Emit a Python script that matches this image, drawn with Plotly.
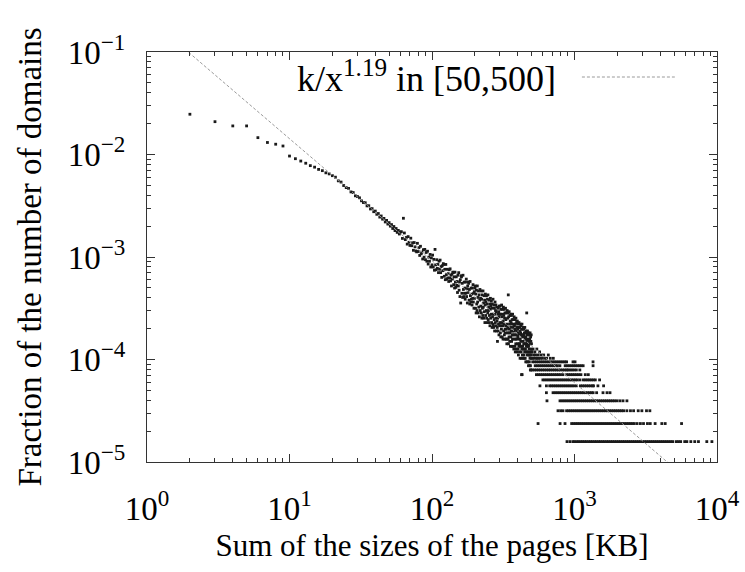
import plotly.graph_objects as go

# ---------------- data ----------------
N_DOMAINS = 126500  # total number of domains (fraction = count / total)

# small sizes: one point per KB value
head_kb = [2, 3, 4, 5, 6, 7, 8, 9, 10, 11, 12, 13, 14, 15, 16, 17, 18, 19, 20]
head_count = [3125, 2644, 2404, 2404, 1847, 1657, 1594, 1531, 1222, 1151,
              1092, 1040, 985, 952, 905, 880, 838, 818, 786]

# band of points that follows the power law, one per KB value from 21 KB
band_count = [
    760, 700, 681, 630, 601, 590, 546, 538, 500, 492,
    478, 447, 430, 428, 399, 400, 372, 375, 350, 355,
    330, 336, 310, 318, 296, 301, 278, 288, 265, 274,
    253, 262, 240, 251, 229, 240, 220, 230, 212, 222,
    223, 192, 302, 217, 187, 196, 169, 200, 176, 164,
    193, 163, 174, 147, 175, 159, 145, 142, 172, 143,
    156, 131, 161, 136, 141, 121, 149, 126, 150, 119,
    140, 115, 144, 108, 126, 115, 134, 101, 124, 106,
    132, 101, 120, 94, 150, 106, 95, 119, 98, 107,
    89, 115, 96, 118, 89, 102, 80, 104, 93, 109,
    107, 82, 96, 76, 107, 85, 77, 96, 79, 87,
    73, 95, 79, 97, 74, 84, 66, 86, 77, 90,
    89, 68, 81, 63, 90, 72, 64, 81, 67, 73,
    57, 84, 66, 89, 60, 72, 52, 76, 45, 83,
    81, 56, 70, 51, 84, 61, 52, 72, 56, 63,
    49, 72, 56, 77, 52, 62, 45, 66, 57, 72,
    70, 48, 61, 44, 73, 53, 46, 63, 49, 55,
    43, 63, 50, 68, 46, 56, 40, 58, 50, 63,
    66, 40, 55, 36, 60, 44, 38, 66, 46, 51,
    36, 59, 41, 54, 33, 48, 61, 38, 50, 42,
    59, 36, 49, 32, 54, 40, 34, 59, 41, 45,
    32, 53, 37, 48, 29, 43, 55, 34, 46, 38,
    53, 32, 44, 29, 49, 36, 54, 31, 38, 41,
    29, 48, 34, 44, 27, 39, 50, 32, 42, 35,
    47, 29, 40, 26, 44, 33, 28, 49, 35, 27,
    26, 43, 31, 40, 24, 35, 46, 29, 38, 32,
    43, 27, 37, 24, 41, 30, 26, 19, 32, 35,
    24, 40, 28, 37, 22, 33, 42, 27, 35, 29,
    42, 23, 35, 21, 39, 27, 25, 43, 29, 33,
    21, 39, 27, 35, 20, 30, 41, 24, 34, 28,
    39, 22, 32, 20, 36, 25, 23, 40, 27, 31,
    20, 36, 25, 20, 18, 28, 38, 23, 32, 26,
    36, 20, 54, 18, 33, 23, 21, 37, 25, 28,
    19, 34, 23, 30, 17, 26, 35, 21, 29, 24,
    34, 19, 28, 17, 31, 22, 20, 35, 24, 26,
    17, 31, 22, 28, 16, 24, 33, 20, 27, 22,
    31, 17, 25, 15, 28, 20, 18, 32, 22, 24,
    16, 29, 20, 26, 15, 22, 30, 18, 25, 21,
    28, 16, 23, 14, 26, 18, 17, 29, 20, 22,
    15, 26, 18, 24, 13, 20, 28, 17, 23, 19,
    27, 15, 22, 13, 25, 17, 16, 28, 9, 21,
    14, 25, 17, 22, 13, 19, 26, 16, 22, 18,
    25, 14, 21, 13, 23, 16, 15, 26, 18, 20,
    13, 23, 16, 21, 12, 18, 24, 15, 20, 17,
    23, 36, 19, 12, 22, 15, 14, 24, 17, 18,
    12, 22, 15, 20, 11, 17, 23, 14, 19, 16,
    22, 12, 18, 11, 20, 14, 13, 23, 15, 10,
    11, 21, 14, 19, 10, 16, 22, 13, 18, 15,
]
band_start_kb = 21

# scattered points just above the discrete levels (500-700 KB)
upper_kb = [503, 507, 512, 516, 521, 527, 533, 538, 544, 549, 556,
            562, 569, 577, 584, 596, 608, 622, 637, 655, 676, 710]
upper_count = [15, 13, 16, 14, 13, 15, 14, 13, 16, 13, 14,
               13, 15, 13, 14, 13, 14, 13, 13, 14, 13, 13]

# tail: discrete levels (number of domains) and the sizes found on each
level_count = [2, 3, 4, 5, 6, 7, 8, 9, 10, 11, 12]
level_kb = [
    [886, 930, 976, 1003, 1041, 1071, 1108, 1140, 1178, 1214, 1256, 1297, 1338,
     1384, 1427, 1476, 1520, 1572, 1623, 1679, 1733, 1792, 1850, 1911, 1974,
     2039, 2105, 2176, 2245, 2321, 2396, 2474, 2557, 2641, 2728, 2818, 2911,
     3007, 3106, 3209, 3315, 3424, 3537, 3653, 3774, 3898, 4027, 4160, 4297,
     4439, 4586, 4740, 4894, 5180, 5366, 5560, 5935, 6143, 6550, 6980, 7410,
     8480, 9210],
    [555, 792, 858, 955, 988, 1022, 1054, 1090, 1126, 1163, 1203, 1242, 1284,
     1327, 1371, 1416, 1463, 1512, 1561, 1613, 1667, 1722, 1779, 1837, 1898,
     1961, 2026, 2093, 2161, 2233, 2307, 2383, 2461, 2542, 2626, 2750, 2900,
     3050, 3250, 3400, 3680, 4100, 4330, 5640],
    [766, 800, 830, 880, 910, 941, 972, 1005, 1039, 1073, 1109, 1146, 1185,
     1224, 1265, 1307, 1351, 1396, 1443, 1491, 1541, 1592, 1646, 1700, 1757,
     1816, 1877, 1939, 2004, 2071, 2140, 2210, 2330, 2470, 2600, 2800, 2970,
     3200, 3380],
    [641, 791, 818, 845, 873, 902, 932, 963, 995, 1028, 1062, 1098, 1134, 1172,
     1211, 1251, 1293, 1336, 1380, 1426, 1474, 1523, 1573, 1626, 1680, 1736,
     1793, 1853, 1915, 1987, 2084, 2190, 2333],
    [635, 707, 731, 755, 780, 806, 833, 860, 889, 919, 949, 981, 1013, 1047,
     1082, 1118, 1155, 1193, 1233, 1274, 1316, 1351, 1430, 1585, 1691, 1775],
    [572, 635, 670, 692, 715, 739, 763, 789, 815, 842, 870, 899, 929, 960, 992,
     1030, 1100, 1137, 1175, 1214, 1254, 1296, 1339, 1360, 1460, 1600],
    [600, 620, 641, 662, 684, 707, 730, 755, 780, 806, 832, 860, 889, 918, 949,
     980, 1013, 1046, 1090, 1150, 1188, 1228, 1268, 1310, 1354, 1400, 1500],
    [425, 540, 558, 576, 595, 615, 635, 656, 678, 700, 724, 748, 772, 798, 830,
     880, 909, 939, 970, 1002, 1035, 1070, 1110, 1190, 1250],
    [506, 523, 540, 558, 576, 595, 615, 636, 657, 678, 701, 724, 748, 773, 798,
     825, 852, 880, 900, 930, 961, 993, 1030, 1090],
    [530, 548, 566, 585, 604, 624, 645, 666, 688, 711, 735, 759, 790, 860, 888,
     918, 948, 980, 1012, 1046, 1080, 1115, 1150, 1350],
    [509, 526, 543, 561, 580, 599, 619, 639, 660, 682, 705, 728, 752, 777, 803,
     829, 856, 880, 976, 1009, 1349],
]

# fitted power law k/x^1.19 (straight line on log-log axes)
fit_kb = [1, 10000]
fit_frac = [0.221, 3.84e-6]

x_tick_vals = [1, 10, 100, 1000, 10000]
x_tick_text = ["10<sup>0</sup>", "10<sup>1</sup>", "10<sup>2</sup>",
               "10<sup>3</sup>", "10<sup>4</sup>"]
y_tick_vals = [1e-5, 1e-4, 1e-3, 1e-2, 1e-1]
y_tick_text = ["10<sup>\u22125</sup>", "10<sup>\u22124</sup>", "10<sup>\u22123</sup>",
               "10<sup>\u22122</sup>", "10<sup>\u22121</sup>"]

# ---------------- assemble points ----------------
band_kb = [band_start_kb + i for i in range(len(band_count))]
all_kb = head_kb + band_kb + upper_kb
all_count = head_count + band_count + upper_count
for c, kbs in zip(level_count, level_kb):
    all_kb += kbs
    all_count += [c] * len(kbs)
all_frac = [c / N_DOMAINS for c in all_count]

FONT = "Liberation Serif"
GRAY = "#9a9a9a"

fig = go.Figure()
fig.add_trace(go.Scatter(
    x=all_kb, y=all_frac, mode="markers",
    marker=dict(size=2.8, color="#1a1a1a", symbol="square", line=dict(width=0)),
    showlegend=False, hoverinfo="skip"))
fig.add_trace(go.Scatter(
    x=fit_kb, y=fit_frac, mode="lines",
    line=dict(color=GRAY, width=1, dash="3px,2px"),
    showlegend=False, hoverinfo="skip"))


def minor_vals(lo, hi):
    vals = []
    for e in range(lo, hi):
        for m in range(2, 10):
            vals.append(m * 10 ** e)
    return vals


axis_style = dict(
    type="log", showline=True, linecolor="#333", linewidth=1, mirror="allticks",
    ticks="inside", ticklen=8, tickwidth=1, tickcolor="#333",
    showgrid=False, zeroline=False,
    tickfont=dict(family=FONT, size=33, color="black"),
)

fig.update_xaxes(
    **axis_style, range=[0, 4], tickmode="array",
    tickvals=x_tick_vals, ticktext=x_tick_text, ticklabelstandoff=17,
    minor=dict(ticks="inside", ticklen=4, tickwidth=1, tickcolor="#333",
               tickmode="array", tickvals=minor_vals(0, 4)),
    title=dict(text="Sum of the sizes of the pages [KB]",
               font=dict(family=FONT, size=31, color="black"), standoff=8),
)
fig.update_yaxes(
    **axis_style, range=[-5, -1], tickmode="array",
    tickvals=y_tick_vals, ticktext=y_tick_text, ticklabelstandoff=14,
    minor=dict(ticks="inside", ticklen=4, tickwidth=1, tickcolor="#333",
               tickmode="array", tickvals=minor_vals(-5, -1)),
    title=dict(text="Fraction of the number of domains",
               font=dict(family=FONT, size=33, color="black"), standoff=16),
)

# key (text + sample line), placed like the original key
fig.add_annotation(
    xref="paper", yref="paper", x=0.721, y=0.941, xanchor="right", yanchor="middle",
    text="k/x<sup>1.19</sup> in [50,500]", showarrow=False,
    font=dict(family=FONT, size=36, color="black"))
fig.add_shape(type="line", xref="paper", yref="paper",
              x0=0.763, x1=0.926, y0=0.939, y1=0.939,
              line=dict(color=GRAY, width=1, dash="3px,2px"))

fig.update_layout(
    width=745, height=572,
    margin=dict(l=147, r=28, t=52, b=110, autoexpand=False),
    paper_bgcolor="white", plot_bgcolor="white",
    font=dict(family=FONT, color="black"),
)

fig.write_html("out.html")
